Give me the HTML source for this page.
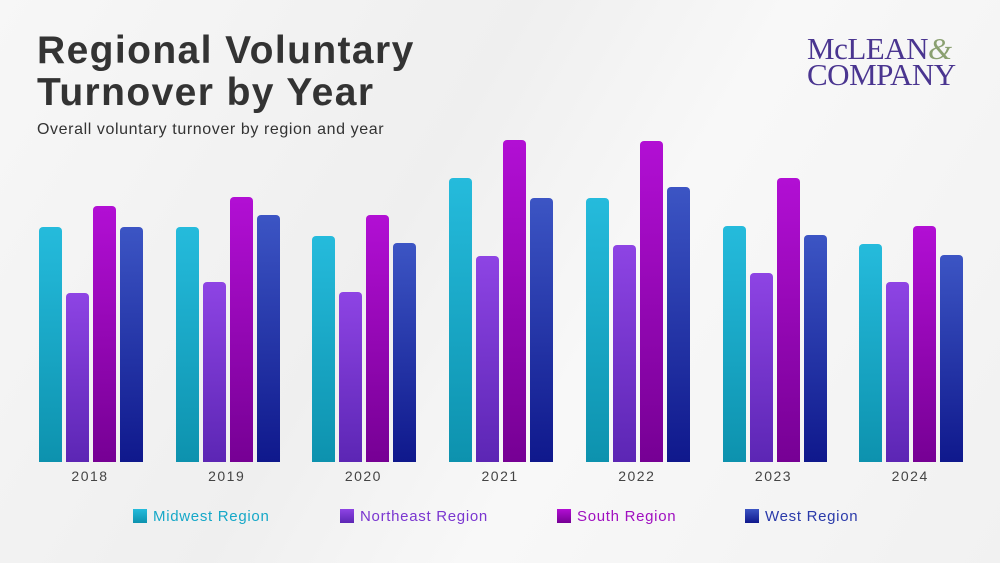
<!DOCTYPE html><html><head><meta charset="utf-8"><style>
body{margin:0;width:1000px;height:563px;overflow:hidden;background:linear-gradient(120deg,#f7f7f7,#efefef 40%,#f8f8f8 60%,#f1f1f1);font-family:"Liberation Sans",sans-serif;position:relative}
.t{position:absolute;left:37px;top:30px;font-size:39px;font-weight:bold;color:#333;line-height:42px;letter-spacing:1.4px}
.s{position:absolute;left:37px;top:121px;font-size:16px;color:#333;letter-spacing:0.6px}
.logo{position:absolute;left:807px;top:36px;font-family:"Liberation Serif",serif;color:#4a3590;font-size:31px;line-height:26px;letter-spacing:-0.5px}
.logo i{color:#8aa070;font-style:italic}
.b{position:absolute;width:23px;border-radius:4px 4px 0 0}
.m{background:linear-gradient(#25bbdc,#0d92ae)}.n{background:linear-gradient(#8e44e4,#5c26b4)}.so{background:linear-gradient(#b20fd4,#760094)}.w{background:linear-gradient(#3c55c4,#0f188c)}
.y{position:absolute;top:468px;width:104px;text-align:center;font-size:14px;color:#444;letter-spacing:1.5px}
.lg{position:absolute;top:508px;font-size:15px;letter-spacing:0.7px}
.lg span{display:inline-block;width:14px;height:14px;vertical-align:-2px;margin-right:6px}
</style></head><body>
<div class="t">Regional Voluntary<br>Turnover by Year</div>
<div class="s">Overall voluntary turnover by region and year</div>
<div class="logo">McLEAN<i>&amp;</i><br>COMPANY</div>
<div id="c"></div>
<div class="lg" style="left:133px;color:#16a8c8"><span class="m"></span>Midwest Region</div>
<div class="lg" style="left:340px;color:#7a36d0"><span class="n"></span>Northeast Region</div>
<div class="lg" style="left:557px;color:#a010c0"><span class="so"></span>South Region</div>
<div class="lg" style="left:745px;color:#2a3aaa"><span class="w"></span>West Region</div>
<script>
var d=[[227,293,206,227],[227,282,197,215],[236,292,215,243],[178,256,140,198],[198,245,141,187],[226,273,178,235],[244,282,226,255]],cl=["m","n","so","w"],h="";
for(var g=0;g<7;g++){var x0=39+g*136.7;for(var k=0;k<4;k++){h+='<div class="b '+cl[k]+'" style="left:'+(x0+k*27)+'px;top:'+d[g][k]+'px;height:'+(462-d[g][k])+'px"></div>';}
h+='<div class="y" style="left:'+(x0-1)+'px">'+(2018+g)+'</div>';}
document.getElementById("c").innerHTML=h;
</script>
</body></html>
